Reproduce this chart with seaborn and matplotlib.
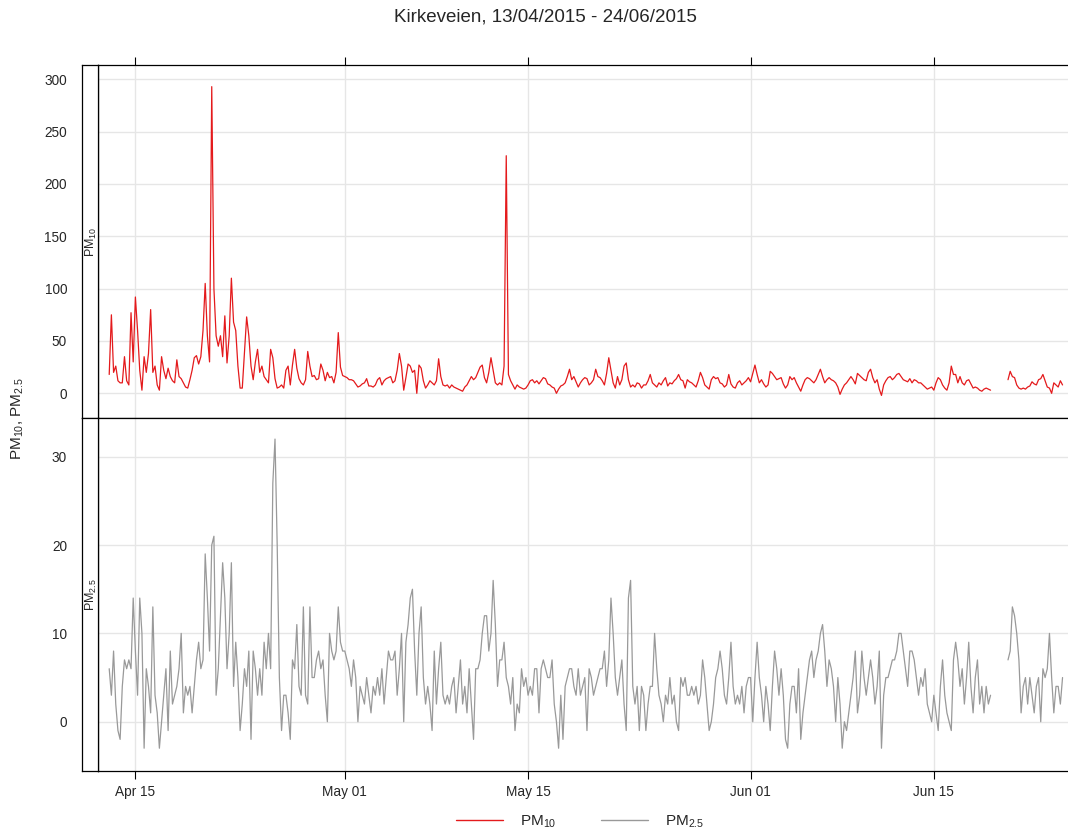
import numpy as np
import pandas as pd
import seaborn as sns
import matplotlib.pyplot as plt
from matplotlib.lines import Line2D

nan = np.nan

# values, 4-hourly, one row per day starting 13 Apr 2015
start_time = "2015-04-13 00:00"
step = "4h"

pm10 = [
    18, 75, 20, 26, 12, 10,
    10, 35, 12, 8, 77, 30,
    92, 60, 22, 3, 35, 20,
    38, 80, 20, 26, 8, 3,
    35, 22, 14, 24, 16, 12,
    10, 32, 16, 14, 10, 6,
    5, 13, 22, 34, 36, 28,
    35, 60, 105, 55, 30, 293,
    100, 55, 45, 55, 35, 74,
    29, 55, 110, 68, 60, 26,
    5, 5, 39, 73, 55, 26,
    13, 30, 42, 20, 26, 16,
    13, 10, 42, 34, 14, 5,
    6, 8, 5, 22, 26, 8,
    27, 42, 24, 14, 10, 8,
    13, 40, 26, 16, 17, 13,
    14, 28, 22, 12, 20, 15,
    16, 10, 20, 58, 25, 17,
    16, 15, 13, 13, 12, 9,
    6, 7, 9, 10, 14, 7,
    7, 6, 8, 13, 15, 8,
    12, 14, 15, 16, 10, 12,
    22, 38, 26, 3, 15, 28,
    26, 20, 22, 0, 27, 24,
    12, 5, 8, 12, 10, 8,
    12, 33, 16, 8, 7, 8,
    5, 8, 6, 5, 4, 3,
    2, 6, 8, 12, 16, 13,
    15, 20, 25, 27, 15, 10,
    20, 34, 22, 10, 8, 10,
    8, 26, 227, 18, 12, 8,
    4, 8, 6, 5, 4, 5,
    8, 12, 13, 10, 12, 9,
    12, 15, 14, 9, 8, 6,
    5, 0, 4, 7, 8, 10,
    16, 23, 13, 16, 11, 6,
    10, 13, 15, 14, 8, 10,
    13, 23, 16, 15, 12, 8,
    19, 34, 22, 10, 5, 16,
    8, 13, 26, 29, 13, 6,
    8, 6, 10, 9, 5, 8,
    8, 12, 18, 10, 8, 6,
    10, 8, 12, 15, 7, 10,
    9, 12, 14, 18, 13, 12,
    5, 13, 11, 10, 8, 6,
    12, 20, 15, 8, 6, 4,
    13, 16, 14, 15, 10, 9,
    6, 8, 18, 9, 6, 5,
    10, 12, 8, 10, 12, 15,
    11, 19, 27, 18, 10, 13,
    9, 6, 8, 21, 19, 16,
    13, 14, 15, 9, 5, 8,
    16, 13, 15, 10, 6, 2,
    8, 13, 15, 14, 12, 10,
    13, 18, 23, 16, 10, 13,
    15, 13, 12, 10, 6, -1,
    4, 8, 10, 13, 16, 13,
    9, 19, 17, 15, 13, 12,
    20, 23, 15, 10, 13, 4,
    -2, 8, 12, 15, 16, 13,
    15, 18, 19, 16, 13, 12,
    11, 14, 10, 13, 12, 10,
    10, 8, 6, 4, 5, 6,
    3, 10, 15, 13, 8, 5,
    3, 10, 26, 18, 18, 10,
    16, 10, 8, 12, 13, 9,
    5, 6, 5, 3, 2, 4,
    5, 4, 3, nan, nan, nan,
    nan, nan, nan, nan, 13, 21,
    16, 15, 8, 5, 4, 5,
    4, 6, 7, 11, 9, 8,
    13, 14, 18, 12, 6, 5,
    0, 10, 8, 6, 12, 8,
]

pm25 = [
    6, 3, 8, 2, -1, -2,
    4, 7, 6, 7, 6, 14,
    8, 3, 14, 10, -3, 6,
    4, 1, 13, 3, 1, -3,
    0, 3, 6, -1, 8, 2,
    3, 4, 6, 10, 1, 4,
    3, 4, 1, 4, 7, 9,
    6, 7, 19, 14, 8, 20,
    21, 3, 6, 12, 18, 14,
    6, 10, 18, 4, 9, 5,
    -1, 2, 6, 4, 8, -2,
    8, 6, 3, 6, 3, 9,
    6, 10, 6, 27, 32, 20,
    5, -1, 3, 3, 1, -2,
    7, 6, 11, 4, 3, 13,
    3, 2, 13, 5, 5, 7,
    8, 6, 7, 3, 0, 10,
    8, 7, 8, 13, 9, 8,
    8, 7, 6, 4, 7, 5,
    0, 4, 3, 2, 5, 3,
    1, 4, 3, 5, 3, 6,
    2, 5, 8, 7, 7, 8,
    3, 6, 10, 0, 9, 11,
    14, 15, 8, 3, 10, 13,
    5, 2, 4, 2, -1, 8,
    2, 6, 9, 3, 2, 3,
    2, 4, 5, 1, 4, 7,
    2, 4, 1, 6, 2, -2,
    6, 6, 7, 10, 12, 12,
    8, 10, 16, 11, 4, 7,
    7, 9, 5, 4, 2, 5,
    -1, 2, 1, 6, 4, 5,
    3, 4, 3, 6, 6, 1,
    6, 7, 6, 5, 5, 7,
    2, 0, -3, 3, -2, 4,
    5, 6, 6, 4, 3, 6,
    3, 4, 5, -1, 6, 5,
    3, 4, 5, 6, 6, 8,
    4, 7, 14, 10, 5, 3,
    5, 7, 2, -1, 14, 16,
    4, 2, 4, -1, 4, 3,
    -1, 2, 4, 4, 10, 6,
    3, 2, 0, 3, 2, 5,
    2, 3, 0, -1, 5, 4,
    5, 3, 3, 4, 3, 4,
    2, 3, 7, 5, 2, -1,
    0, 2, 5, 6, 8, 6,
    3, 2, 5, 9, 4, 2,
    3, 2, 4, 1, 4, 5,
    5, 0, 5, 9, 5, 3,
    0, 4, 2, -1, 4, 8,
    6, 3, 6, 3, -2, -3,
    2, 4, 4, 1, 6, -2,
    1, 3, 5, 7, 8, 5,
    7, 8, 10, 11, 8, 4,
    7, 6, 4, 0, 5, 2,
    -3, 0, -1, 1, 3, 5,
    8, 1, 3, 8, 5, 3,
    5, 7, 5, 2, 4, 8,
    -3, 3, 5, 5, 6, 7,
    7, 8, 10, 10, 8, 6,
    4, 8, 8, 7, 5, 3,
    5, 4, 6, 2, 1, 0,
    3, 1, -1, 4, 7, 3,
    1, 0, -1, 7, 9, 7,
    4, 6, 2, 5, 9, 4,
    1, 5, 7, 2, 4, 1,
    4, 2, 3, nan, nan, nan,
    nan, nan, nan, nan, 7, 8,
    13, 12, 10, 7, 1, 4,
    5, 2, 5, 3, 1, 4,
    5, 0, 6, 5, 6, 10,
    5, 1, 4, 4, 2, 5,
]

tick_dates = ["2015-04-15", "2015-05-01", "2015-05-15", "2015-06-01", "2015-06-15"]
tick_labels = ["Apr 15", "May 01", "May 15", "Jun 01", "Jun 15"]
pm10_ticks = [0, 50, 100, 150, 200, 250, 300]
pm25_ticks = [0, 10, 20, 30]

title = "Kirkeveien, 13/04/2015 - 24/06/2015"

# Build data frame

times = pd.date_range(start_time, periods=len(pm10), freq=step)
df = pd.DataFrame({"date": times, "PM10": pm10, "PM25": pm25})

# Style

sns.set_style("white")
plt.rcParams["font.family"] = ["Liberation Sans", "DejaVu Sans"]
plt.rcParams["mathtext.fontset"] = "custom"
plt.rcParams["mathtext.rm"] = "Liberation Sans"
plt.rcParams["mathtext.it"] = "Liberation Sans:italic"

W, H = 1068, 835
fig = plt.figure(figsize=(W / 100, H / 100), dpi=100)


def px_axes(x0, y0, x1, y1):
    return fig.add_axes([x0 / W, 1 - y1 / H, (x1 - x0) / W, (y1 - y0) / H])


x_left = pd.Timestamp("2015-04-12 04:00")
x_right = pd.Timestamp("2015-06-25 06:00")

panels = [
    ("PM10", "#E41A1C", (65.3, 417.7), (-23.3, 313.4), pm10_ticks, "PM$_{10}$"),
    ("PM25", "#999999", (417.7, 771.0), (-5.58, 34.42), pm25_ticks, "PM$_{2.5}$"),
]

for i, (col, colour, (y0, y1), ylim, yticks, strip_text) in enumerate(panels):
    ax = px_axes(98.3, y0, W, y1)
    strip = px_axes(82.3, y0, 98.3, y1)

    sub = df[["date", col]].copy()
    sub["seg"] = sub[col].isna().cumsum()
    sub = sub.dropna()

    sns.lineplot(
        data=sub, x="date", y=col, units="seg", estimator=None,
        color=colour, linewidth=0.9, ax=ax, legend=False
    )

    ax.set_xlim(x_left, x_right)
    ax.set_ylim(*ylim)
    ax.set_xticks(pd.to_datetime(tick_dates))
    ax.set_yticks(yticks)
    ax.grid(True, color="#E6E6E6", linewidth=1.0)
    ax.set_axisbelow(True)
    ax.set_xlabel("")
    ax.set_ylabel("")
    ax.tick_params(axis="y", left=False, labelleft=False)
    for side in ["top", "bottom", "left"]:
        ax.spines[side].set_color("black")
        ax.spines[side].set_linewidth(0.9)
    ax.spines["right"].set_visible(False)

    if i == 0:
        ax.tick_params(axis="x", bottom=False, labelbottom=False, top=True,
                       direction="out", length=6, width=0.8, color="black")
    else:
        ax.set_xticklabels(tick_labels)
        ax.tick_params(axis="x", bottom=True, labelbottom=True, top=False,
                       direction="out", length=6, width=0.8, color="black",
                       labelsize=9.8, pad=4)

    # left strip with the axis ticks
    strip.set_ylim(*ylim)
    strip.set_xlim(0, 1)
    strip.set_xticks([])
    strip.set_yticks(yticks)
    strip.tick_params(axis="y", direction="out", length=6, width=0.8,
                      color="black", labelsize=9.8, pad=5)
    for side in strip.spines:
        strip.spines[side].set_color("black")
        strip.spines[side].set_linewidth(0.9)
    strip.text(0.55, 0.5, strip_text, rotation=90, ha="center", va="center",
               fontsize=9, transform=strip.transAxes)

fig.text(545 / W, 1 - 17 / H, title, ha="center", va="center", fontsize=13.5)
fig.text(18 / W, 1 - 418 / H, "PM$_{10}$, PM$_{2.5}$", rotation=90,
         ha="center", va="center", fontsize=11)

handles = [
    Line2D([], [], color="#E41A1C", linewidth=1.0),
    Line2D([], [], color="#999999", linewidth=1.0),
]
fig.legend(handles, ["PM$_{10}$", "PM$_{2.5}$"], loc="center",
           bbox_to_anchor=(580 / W, 1 - 822 / H), ncol=2, frameon=False,
           fontsize=11, handlelength=3.1, handletextpad=1.1,
           columnspacing=2.9)

fig.savefig("out.png", dpi=100)
